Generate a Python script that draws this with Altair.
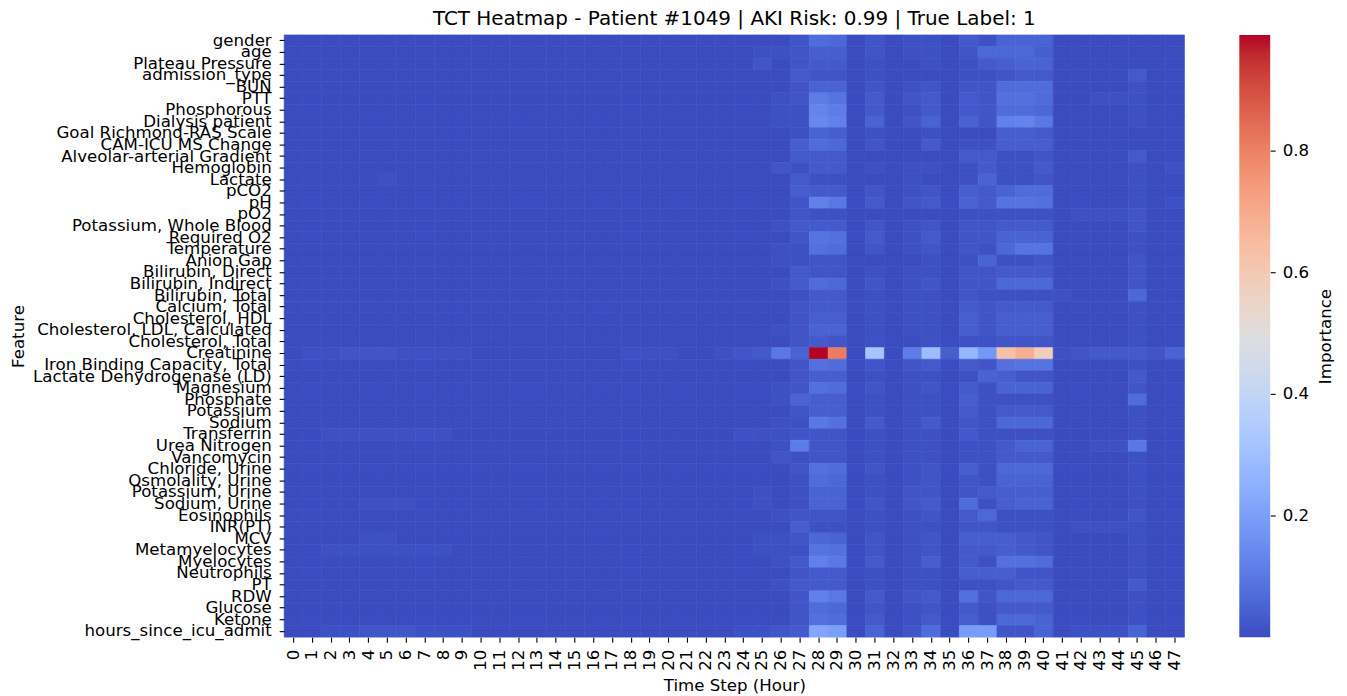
import altair as alt
import pandas as pd
import numpy as np

TITLE = "TCT Heatmap - Patient #1049 | AKI Risk: 0.99 | True Label: 1"

features = [
    "gender", "age", "Plateau Pressure", "admission_type", "BUN", "PTT",
    "Phosphorous", "Dialysis patient", "Goal Richmond-RAS Scale",
    "CAM-ICU MS Change", "Alveolar-arterial Gradient", "Hemoglobin", "Lactate",
    "pCO2", "pH", "pO2", "Potassium, Whole Blood", "Required O2", "Temperature",
    "Anion Gap", "Bilirubin, Direct", "Bilirubin, Indirect", "Bilirubin, Total",
    "Calcium, Total", "Cholesterol, HDL", "Cholesterol, LDL, Calculated",
    "Cholesterol, Total", "Creatinine", "Iron Binding Capacity, Total",
    "Lactate Dehydrogenase (LD)", "Magnesium", "Phosphate", "Potassium",
    "Sodium", "Transferrin", "Urea Nitrogen", "Vancomycin", "Chloride, Urine",
    "Osmolality, Urine", "Potassium, Urine", "Sodium, Urine", "Eosinophils",
    "INR(PT)", "MCV", "Metamyelocytes", "Myelocytes", "Neutrophils", "PT", "RDW",
    "Glucose", "Ketone", "hours_since_icu_admit",
]

hours = list(range(48))
cbar_ticks = [0.2, 0.4, 0.6, 0.8]

# importance x 100, hours 0-23 (one row per feature, same order)
imp_h00_23 = [
    [0,0,0,0,0,0,0,0,0,0,0,0,0,0,0,0,0,0,0,0,0,0,0,0],  # gender
    [0,0,0,0,0,0,0,0,0,0,0,0,0,0,0,0,0,0,0,0,0,0,0,0],  # age
    [0,0,0,0,0,0,0,0,0,0,0,0,0,0,0,0,0,0,0,0,0,0,0,0],  # Plateau Pressure
    [0,0,0,0,0,0,0,0,0,0,0,0,0,0,0,0,0,0,0,0,0,0,0,0],  # admission_type
    [0,0,0,0,0,0,0,0,0,0,0,0,0,0,0,0,0,0,0,0,0,0,0,0],  # BUN
    [0,0,0,0,0,0,0,0,0,0,0,0,0,0,0,0,0,0,0,0,0,0,0,0],  # PTT
    [0,0,0,0,0,0,0,0,0,0,0,0,0,0,0,0,0,0,0,0,0,0,0,0],  # Phosphorous
    [0,0,0,0,0,0,0,0,0,0,0,0,0,0,0,0,0,0,0,0,0,0,0,0],  # Dialysis patient
    [0,0,0,0,0,0,0,0,0,0,0,0,0,0,0,0,0,0,0,0,0,0,0,0],  # Goal Richmond-RAS Scale
    [0,0,0,0,0,0,0,0,0,0,0,0,0,0,0,0,0,0,0,0,0,0,0,0],  # CAM-ICU MS Change
    [0,0,0,0,0,0,0,0,0,0,0,0,0,0,0,0,0,0,0,0,0,0,0,0],  # Alveolar-arterial Gradient
    [0,0,0,0,0,0,0,0,0,0,0,0,0,0,0,0,0,0,0,0,0,0,0,0],  # Hemoglobin
    [0,0,0,0,0,1,0,0,0,0,0,0,0,0,0,0,0,0,0,0,0,0,0,0],  # Lactate
    [0,0,0,0,0,0,0,0,0,0,0,0,0,0,0,0,0,0,0,0,0,0,0,0],  # pCO2
    [0,0,0,0,0,0,0,0,0,0,0,0,0,0,0,0,0,0,0,0,0,0,0,0],  # pH
    [0,0,0,0,0,0,0,0,0,0,0,0,0,0,0,0,0,0,0,0,0,0,0,0],  # pO2
    [0,0,0,0,0,0,0,0,0,0,0,0,0,0,0,0,0,0,0,0,0,0,0,0],  # Potassium, Whole Blood
    [0,0,0,0,0,0,0,0,0,0,0,0,0,0,0,0,0,0,0,0,0,0,0,0],  # Required O2
    [0,0,0,0,0,0,0,0,0,0,0,0,0,0,0,0,0,0,0,0,0,0,0,0],  # Temperature
    [0,0,0,0,0,0,0,0,0,0,0,0,0,0,0,0,0,0,0,0,0,0,0,0],  # Anion Gap
    [0,0,0,0,0,0,0,0,0,0,0,0,0,0,0,0,0,0,0,0,0,0,0,0],  # Bilirubin, Direct
    [0,0,0,0,0,0,0,0,0,0,0,0,0,0,0,0,0,0,0,0,0,0,0,0],  # Bilirubin, Indirect
    [0,0,0,0,0,0,0,0,0,0,0,0,0,0,0,0,0,0,0,0,0,0,0,0],  # Bilirubin, Total
    [0,0,0,0,0,0,0,0,0,0,0,0,0,0,0,0,0,0,0,0,0,0,0,0],  # Calcium, Total
    [0,0,0,0,0,0,0,0,0,0,0,0,0,0,0,0,0,0,0,0,0,0,0,0],  # Cholesterol, HDL
    [0,0,0,0,0,0,0,0,0,0,0,0,0,0,0,0,0,0,0,0,0,0,0,0],  # Cholesterol, LDL, Calculated
    [0,0,0,0,0,0,0,0,0,0,0,0,0,0,0,0,0,0,0,0,0,0,0,0],  # Cholesterol, Total
    [0,1,1,2,2,2,1,1,1,1,0,0,0,0,0,0,0,0,1,1,1,0,0,1],  # Creatinine
    [0,0,0,0,0,0,0,0,0,0,0,0,0,0,0,0,0,0,0,0,0,0,0,0],  # Iron Binding Capacity, Total
    [0,0,0,0,0,0,0,0,0,0,0,0,0,0,0,0,0,0,0,0,0,0,0,0],  # Lactate Dehydrogenase (LD)
    [0,0,0,0,0,0,0,0,0,0,0,0,0,0,0,0,0,0,0,0,0,0,0,0],  # Magnesium
    [0,0,0,0,0,0,0,0,0,0,0,0,0,0,0,0,0,0,0,0,0,0,0,0],  # Phosphate
    [0,0,0,0,0,0,0,0,0,0,0,0,0,0,0,0,0,0,0,0,0,0,0,0],  # Potassium
    [0,0,0,0,0,0,0,0,0,0,0,0,0,0,0,0,0,0,0,0,0,0,0,0],  # Sodium
    [0,0,1,1,1,1,1,1,1,0,0,0,0,0,0,0,0,0,0,0,0,0,0,0],  # Transferrin
    [0,0,0,0,0,0,0,0,0,0,0,0,0,0,0,0,0,0,0,0,0,0,0,0],  # Urea Nitrogen
    [0,0,0,0,0,0,0,0,0,0,0,0,0,0,0,0,0,0,0,0,0,0,0,0],  # Vancomycin
    [0,0,0,0,0,0,0,0,0,0,0,0,0,0,0,0,0,0,0,0,0,0,0,0],  # Chloride, Urine
    [0,0,0,0,0,0,0,0,0,0,0,0,0,0,0,0,0,0,0,0,0,0,0,0],  # Osmolality, Urine
    [0,0,0,0,0,0,0,0,0,0,0,0,0,0,0,0,0,0,0,0,0,0,0,0],  # Potassium, Urine
    [0,0,0,0,1,1,1,0,0,0,0,0,0,0,0,0,0,0,0,0,0,0,0,0],  # Sodium, Urine
    [0,0,0,0,0,0,0,0,0,0,0,0,0,0,0,0,0,0,0,0,0,0,0,0],  # Eosinophils
    [0,0,0,0,0,0,0,0,0,0,0,0,0,0,0,0,0,0,0,0,0,0,0,0],  # INR(PT)
    [0,0,0,0,1,1,0,0,0,0,0,0,0,0,0,0,0,0,0,0,0,0,0,0],  # MCV
    [0,0,1,1,1,1,1,1,1,0,0,0,0,0,0,0,0,0,0,0,0,0,0,0],  # Metamyelocytes
    [0,0,0,0,0,0,0,0,0,0,0,0,0,0,0,0,0,0,0,0,0,0,0,0],  # Myelocytes
    [0,0,0,0,0,0,0,0,0,0,0,0,0,0,0,0,0,0,0,0,0,0,0,0],  # Neutrophils
    [0,0,0,0,0,0,0,0,0,0,0,0,0,0,0,0,0,0,0,0,0,0,0,0],  # PT
    [0,0,0,0,0,0,0,0,0,0,0,0,0,0,0,0,0,0,0,0,0,0,0,0],  # RDW
    [0,0,0,0,0,0,0,0,0,0,0,0,0,0,0,0,0,0,0,0,0,0,0,0],  # Glucose
    [0,0,0,0,0,0,0,0,0,0,0,0,0,0,0,0,0,0,0,0,0,0,0,0],  # Ketone
    [0,0,1,1,2,2,2,1,1,1,0,0,0,0,0,0,0,0,0,0,0,0,0,0],  # hours_since_icu_admit
]

# importance x 100, hours 24-47
imp_h24_47 = [
    [0,0,0,2,7,6,0,2,0,1,1,0,3,1,5,5,5,0,0,0,0,0,0,0],          # gender
    [0,1,1,2,4,4,0,2,0,1,1,0,2,6,6,6,4,0,0,0,0,0,0,0],          # age
    [0,2,0,2,3,3,0,1,0,0,1,0,1,3,4,5,5,0,0,0,0,0,0,0],          # Plateau Pressure
    [0,0,0,3,2,2,0,1,0,0,0,0,1,1,2,3,3,0,0,0,0,3,0,0],          # admission_type
    [0,0,0,2,5,5,0,2,0,1,2,0,2,2,7,7,7,0,0,0,0,1,0,0],          # BUN
    [0,0,1,2,11,9,0,3,0,2,3,0,3,2,8,8,7,0,0,1,1,1,0,0],         # PTT
    [0,0,1,1,13,11,0,3,0,1,3,0,3,2,7,7,6,0,0,0,0,1,0,0],        # Phosphorous
    [0,0,1,1,14,12,0,5,0,2,5,0,5,2,12,13,10,0,0,0,0,1,0,0],     # Dialysis patient
    [0,0,0,1,5,4,0,1,0,0,1,0,0,0,4,4,3,0,0,0,0,0,0,0],          # Goal Richmond-RAS Scale
    [0,0,0,4,7,6,0,2,0,0,3,0,1,1,4,4,4,0,0,0,0,0,0,0],          # CAM-ICU MS Change
    [0,0,0,3,3,3,0,0,0,0,0,0,3,3,1,1,2,0,0,0,0,3,0,0],          # Alveolar-arterial Gradient
    [0,0,2,1,3,3,0,1,0,1,1,0,1,3,1,1,3,0,0,0,0,1,0,1],          # Hemoglobin
    [0,0,0,3,1,1,0,0,0,1,0,0,1,5,1,1,2,0,0,0,0,1,0,0],          # Lactate
    [0,0,0,4,3,3,0,2,0,1,2,0,4,3,5,7,7,0,0,0,0,1,0,0],          # pCO2
    [0,0,0,2,12,10,0,3,0,2,3,0,5,3,9,9,8,0,0,0,0,1,0,1],        # pH
    [0,0,0,2,1,1,0,0,0,0,0,0,1,1,1,1,1,0,1,1,1,2,0,0],          # pO2
    [0,0,1,3,3,3,0,2,0,1,2,0,2,2,3,3,3,0,0,0,0,2,0,0],          # Potassium, Whole Blood
    [0,0,0,2,9,8,0,3,0,1,3,0,2,2,5,5,5,0,0,0,0,1,0,0],          # Required O2
    [0,0,1,1,8,7,0,2,0,1,2,0,2,1,6,9,9,0,0,0,0,1,0,0],          # Temperature
    [0,0,1,1,2,2,0,0,0,0,1,0,1,5,1,1,2,0,0,0,0,2,0,0],          # Anion Gap
    [0,0,0,3,2,2,0,1,0,1,1,0,2,2,3,3,3,0,0,0,0,2,0,0],          # Bilirubin, Direct
    [0,0,1,3,7,6,0,2,0,1,2,0,2,2,6,6,6,0,0,0,0,2,0,0],          # Bilirubin, Indirect
    [0,0,0,1,3,3,0,1,0,1,1,0,2,1,1,1,1,1,0,0,0,6,0,0],          # Bilirubin, Total
    [0,0,0,2,3,3,0,1,0,1,1,0,3,2,3,3,3,0,0,0,0,1,0,0],          # Calcium, Total
    [0,0,0,2,4,4,0,1,0,1,1,0,4,2,4,4,4,0,0,0,0,1,0,0],          # Cholesterol, HDL
    [0,0,1,2,5,5,0,1,0,1,1,0,4,2,4,4,4,0,0,0,0,1,0,0],          # Cholesterol, LDL, Calculated
    [0,0,0,2,3,2,0,1,0,0,1,0,1,1,2,2,2,0,0,0,0,1,0,0],          # Cholesterol, Total
    [2,3,10,5,99,81,0,32,0,11,29,4,27,18,63,69,58,1,2,3,3,3,2,5],  # Creatinine
    [0,0,0,2,8,7,0,2,0,2,3,0,3,2,8,9,9,0,0,0,0,1,0,0],          # Iron Binding Capacity, Total
    [0,0,0,2,4,4,0,1,0,1,1,0,1,5,4,2,2,0,0,0,0,3,0,0],          # Lactate Dehydrogenase (LD)
    [0,0,1,2,8,7,0,2,0,1,2,0,3,1,5,5,5,0,0,0,0,2,0,0],          # Magnesium
    [0,0,1,5,4,4,0,1,0,1,1,0,4,1,1,1,1,0,0,0,0,7,0,0],          # Phosphate
    [0,0,0,2,4,4,0,1,0,1,1,0,3,1,3,3,3,0,0,0,0,1,0,0],          # Potassium
    [0,0,1,1,10,8,0,3,0,1,3,0,2,1,6,6,6,0,0,0,0,1,0,0],         # Sodium
    [1,1,1,2,2,2,0,1,0,1,1,0,3,1,1,1,1,0,0,0,0,1,0,0],          # Transferrin
    [0,0,1,11,2,2,0,1,0,1,1,0,1,1,3,5,5,0,0,1,1,10,0,0],        # Urea Nitrogen
    [0,0,2,1,2,2,0,1,0,1,1,0,1,1,3,3,3,0,0,0,0,1,0,0],          # Vancomycin
    [0,0,0,2,8,7,0,2,0,1,2,0,4,1,6,6,6,0,0,0,0,1,0,0],          # Chloride, Urine
    [0,0,0,1,7,6,0,1,0,1,2,0,2,1,5,5,5,0,0,0,0,1,0,0],          # Osmolality, Urine
    [0,1,0,1,5,5,0,1,0,2,2,0,2,3,4,4,4,0,0,0,0,1,0,0],          # Potassium, Urine
    [0,1,0,1,5,5,0,2,0,2,3,0,7,1,4,5,5,0,0,0,0,1,0,0],          # Sodium, Urine
    [0,0,1,2,2,2,0,1,0,1,2,0,3,6,1,1,1,0,0,0,0,2,0,0],          # Eosinophils
    [0,0,0,4,1,1,0,1,0,1,1,0,2,2,1,1,1,0,1,1,1,1,0,0],          # INR(PT)
    [0,1,1,2,6,5,0,2,0,1,2,0,4,4,4,3,2,0,0,0,0,1,0,0],          # MCV
    [0,1,1,1,9,8,0,2,0,1,2,0,3,3,4,3,2,0,0,0,0,1,0,0],          # Metamyelocytes
    [0,0,1,3,12,10,0,3,0,1,4,0,3,1,8,8,7,0,0,0,0,1,0,0],        # Myelocytes
    [0,0,0,2,3,3,0,1,0,1,1,0,4,4,4,2,2,0,0,0,0,1,0,0],          # Neutrophils
    [0,0,1,3,3,3,0,1,0,1,1,0,1,1,2,3,3,0,0,0,0,3,0,0],          # PT
    [0,0,0,2,12,10,0,3,0,2,3,0,8,2,6,6,6,0,0,0,0,1,0,0],        # RDW
    [0,0,0,2,7,6,0,2,0,1,2,0,3,1,3,3,3,0,0,0,0,1,0,0],          # Glucose
    [0,0,0,2,8,7,0,3,0,1,3,0,4,1,6,6,5,0,0,0,0,1,0,0],          # Ketone
    [1,1,2,3,22,20,0,5,0,2,7,0,19,19,2,2,5,0,1,1,1,5,0,0],      # hours_since_icu_admit
]

# matplotlib "coolwarm" (Moreland diverging map) colour stops
coolwarm = [
    "#3b4cc0", "#445acc", "#4d68d7", "#5775e1", "#6282ea", "#6c8ef1",
    "#779af7", "#82a5fb", "#8db0fe", "#98b9ff", "#a3c2ff", "#aec9fd",
    "#b8d0f9", "#c2d5f4", "#ccd9ee", "#d5dbe6", "#dddddd", "#e5d8d1",
    "#ecd3c5", "#f1ccb8", "#f5c4ac", "#f7bba0", "#f7b194", "#f7a689",
    "#f49a7b", "#f18d6f", "#ec7f63", "#e57058", "#de604d", "#d55042",
    "#cb3e38", "#c0282f", "#b40426",
]

records = []
for i, feat in enumerate(features):
    row = imp_h00_23[i] + imp_h24_47[i]
    for h in hours:
        records.append({"feature": feat, "hour": h, "importance": row[h] / 100.0})
df = pd.DataFrame(records)

vmin = float(df["importance"].min())
vmax = float(df["importance"].max())
stops = [float(v) for v in np.linspace(vmin, vmax, len(coolwarm))]
n = len(coolwarm) - 1

FONT = "DejaVu Sans"
FS = 16.7
W, H = 903, 604
CB_GAP, CB_W = 55, 31

heat = (
    alt.Chart(df)
    .mark_rect(strokeWidth=0.6)
    .encode(
        x=alt.X(
            "hour:O",
            sort=hours,
            scale=alt.Scale(paddingInner=0, paddingOuter=0),
            axis=alt.Axis(
                title="Time Step (Hour)",
                labelAngle=270,
                labelPadding=7,
                titleY=49,
                titleBaseline="middle",
            ),
        ),
        y=alt.Y(
            "feature:N",
            sort=features,
            scale=alt.Scale(paddingInner=0, paddingOuter=0),
            axis=alt.Axis(
                title="Feature",
                labelPadding=8,
                labelLimit=500,
                titleX=-266,
                titleY=H / 2,
                titleBaseline="middle",
            ),
        ),
        color=alt.Color(
            "importance:Q",
            scale=alt.Scale(domain=stops, range=coolwarm, interpolate="rgb"),
            legend=None,
        ),
        stroke=alt.Stroke(
            "importance:Q",
            scale=alt.Scale(domain=stops, range=coolwarm, interpolate="rgb"),
            legend=None,
        ),
    )
)

# colour bar: one rect spanning the data range, filled with the colormap
cbar = (
    alt.Chart(pd.DataFrame({"lo": [vmin], "hi": [vmax]}))
    .mark_rect(
        fill=alt.Gradient(
            gradient="linear",
            x1=0, x2=0, y1=1, y2=0,
            stops=[alt.GradientStop(offset=k / n, color=c) for k, c in enumerate(coolwarm)],
        )
    )
    .encode(
        x=alt.value(W + CB_GAP),
        x2=alt.value(W + CB_GAP + CB_W),
        y=alt.Y(
            "lo:Q",
            scale=alt.Scale(domain=[vmin, vmax], nice=False, zero=False),
            axis=alt.Axis(
                orient="right",
                offset=CB_GAP + CB_W,
                values=cbar_ticks,
                format=".1f",
                title="Importance",
                titleAngle=270,
                titleX=55,
                titleY=H / 2,
                titleBaseline="middle",
                labelPadding=7,
            ),
        ),
        y2="hi:Q",
    )
)

chart = (
    alt.layer(heat, cbar)
    .resolve_scale(y="independent", color="independent")
    .resolve_axis(y="independent")
    .properties(
        width=W,
        height=H,
        title=alt.Title(
            TITLE, fontSize=20, font=FONT, fontWeight="normal", color="black",
            anchor="middle", frame="group", offset=3,
        ),
        autosize=alt.AutoSizeParams(type="none"),
        padding={"left": 277, "top": 26, "right": 155, "bottom": 58},
    )
    .configure_axis(
        labelFont=FONT,
        labelFontSize=FS,
        labelColor="black",
        titleFont=FONT,
        titleFontSize=FS,
        titleFontWeight="normal",
        titleColor="black",
        tickColor="black",
        tickSize=5,
        tickWidth=1.1,
        domain=False,
        grid=False,
    )
    .configure_view(stroke="transparent")
)

chart.save("out.html", embed_options={"renderer": "svg", "actions": False})
